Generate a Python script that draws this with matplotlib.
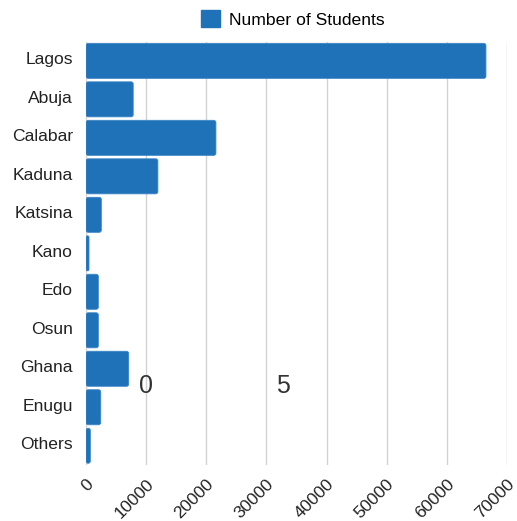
import matplotlib
matplotlib.use("Agg")
import matplotlib.pyplot as plt
from matplotlib.patches import Patch, FancyBboxPatch
from matplotlib.transforms import ScaledTranslation

categories = ["Lagos", "Abuja", "Calabar", "Kaduna", "Katsina", "Kano",
              "Edo", "Osun", "Ghana", "Enugu", "Others"]
students = [66500, 7850, 21600, 11950, 2550, 500, 2050, 2050, 7100, 2450, 720]
xticks = [0, 10000, 20000, 30000, 40000, 50000, 60000, 70000]
series_name = "Number of Students"
stray_labels = [("0", 10000), ("5", 32800)]

plt.rcParams['font.family'] = ['Liberation Sans', 'DejaVu Sans']

W, H = 517, 521
fig = plt.figure(figsize=(W / 100, H / 100), dpi=100)
left, right, top, bottom = 86, 507, 41.6, 465
ax = fig.add_axes([left / W, 1 - bottom / H, (right - left) / W, (bottom - top) / H])

color = "#1f71b8"
ypos = list(range(len(categories)))
ax.set_ylim(len(categories) - 0.5, -0.5)
ax.set_xlim(0, 70000)

bars = ax.barh(ypos, students, height=0.91, color=color, linewidth=0, zorder=3)
# replace plain rectangles with slightly rounded ones (same geometry)
x_per_px = 70000 / (right - left)
y_per_px = len(categories) / (bottom - top)
for b in bars:
    x0, y0, w, h = b.get_x(), b.get_y(), b.get_width(), b.get_height()
    b.set_visible(False)
    rad = min(2.2 * x_per_px, w / 2)
    p = FancyBboxPatch((x0, y0), w, h,
                       boxstyle=f"round,pad=0,rounding_size={rad}",
                       mutation_aspect=y_per_px / x_per_px,
                       facecolor=color, edgecolor="#3a86c8", linewidth=0.6,
                       zorder=3)
    ax.add_patch(p)

ax.set_yticks(ypos)
ax.set_yticklabels(categories, fontsize=12.6, color="#222222")
ax.set_xticks(xticks)
ax.set_xticklabels([str(v) for v in xticks], fontsize=12.6, color="#222222",
                   rotation=45, ha="right", va="center", rotation_mode="anchor")
ax.tick_params(axis="y", length=0, pad=9.4)
ax.tick_params(axis="x", length=0, pad=11.9)
offx = ScaledTranslation(5 / 100, 0, fig.dpi_scale_trans)
for lab in ax.get_xticklabels():
    lab.set_transform(lab.get_transform() + offx)
offy = ScaledTranslation(0, 2.5 / 100, fig.dpi_scale_trans)
for lab in ax.get_yticklabels():
    lab.set_transform(lab.get_transform() + offy)

ax.grid(axis="x", color="#d2d2d2", linewidth=1, zorder=0)
ax.grid(axis="y", visible=False)
for s in ax.spines.values():
    s.set_visible(False)

for txt, xv in stray_labels:
    ax.text(xv, 8.46, txt, fontsize=18, color="#333333", ha="center",
            va="center", zorder=4)

handle = Patch(facecolor=color, edgecolor=color)
fig.legend([handle], [series_name], loc="center", bbox_to_anchor=(293 / W, 1 - 19 / H),
           frameon=False, fontsize=12.6, handlelength=1.1, handleheight=1.1,
           handletextpad=0.5, borderpad=0)

fig.savefig("out.png", dpi=100)
